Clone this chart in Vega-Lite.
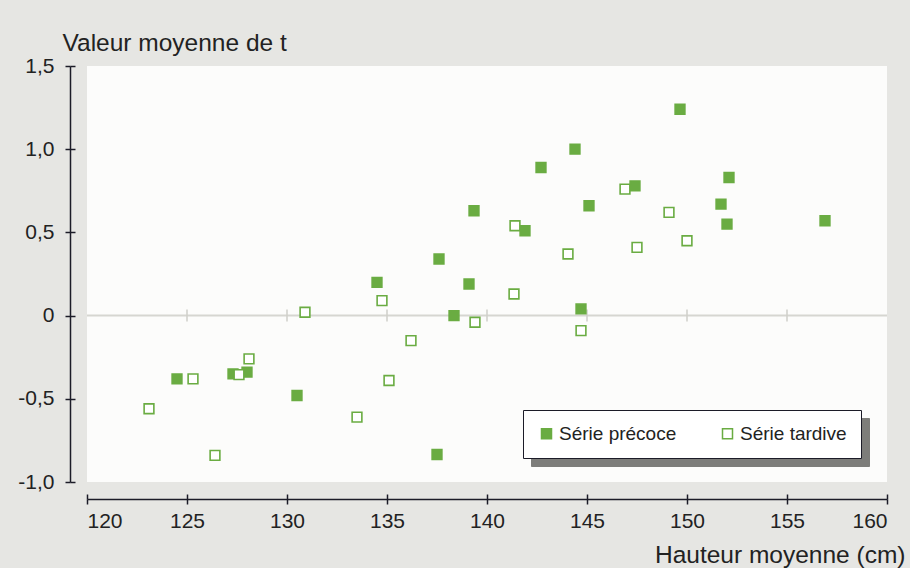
{
  "$schema": "https://vega.github.io/schema/vega-lite/v6.json",
  "width": 800,
  "height": 416,
  "autosize": {"type": "none"},
  "padding": {"left": 87, "top": 66, "right": 23, "bottom": 86},
  "background": "#e6e6e3",
  "view": {"fill": "#fcfcfb", "stroke": null},
  "config": {"font": "Liberation Sans"},
  "resolve": {"axis": {"x": "independent", "y": "independent"}},
  "layer": [
    {
      "data": {"values": [{"v": 0, "ombre": "a"}, {"v": 0, "ombre": "b"}]},
      "mark": {"type": "point", "opacity": 0},
      "encoding": {
        "y": {"field": "v", "type": "quantitative", "scale": {"domain": [-1, 1.5], "nice": false, "zero": false}, "axis": null},
        "color": {"field": "ombre", "type": "nominal",
          "scale": {"domain": ["a", "b"], "range": ["#7d7d7a", "#7d7d7a"]},
          "legend": {"orient": "none", "legendX": 444, "legendY": 352, "direction": "horizontal", "title": null,
            "fillColor": "#7d7d7a", "strokeColor": "#7d7d7a", "padding": 14,
            "symbolType": "square", "symbolSize": 100, "symbolOpacity": 0,
            "labelExpr": "datum.label == 'a' ? 'Série précoce' : 'Série tardive'",
            "labelFont": "Liberation Sans", "labelFontSize": 19, "labelColor": "#7d7d7a", "labelOffset": 3, "columnPadding": 41}}
      }
    },
    {
      "data": {"values": [{"v": 0}]},
      "mark": {"type": "rule", "color": "#d6d6d1", "strokeWidth": 2},
      "encoding": {
        "y": {"field": "v", "type": "quantitative", "scale": {"domain": [-1, 1.5], "nice": false, "zero": false}, "axis": null}
      }
    },
    {
      "data": {"values": [{"h": 125, "v": 0}, {"h": 130, "v": 0}, {"h": 135, "v": 0}, {"h": 140, "v": 0}, {"h": 145, "v": 0}, {"h": 150, "v": 0}, {"h": 155, "v": 0}]},
      "mark": {"type": "tick", "orient": "vertical", "size": 12, "thickness": 1.5, "color": "#cfcfca", "opacity": 1},
      "encoding": {
        "x": {"field": "h", "type": "quantitative", "scale": {"domain": [120, 160], "nice": false, "zero": false},
          "axis": {"orient": "bottom", "offset": 17, "domain": false, "labels": false, "ticks": true, "tickSize": -5, "tickWidth": 1.5, "tickColor": "#1c1c28", "title": null, "grid": false, "values": [120, 125, 130, 135, 140, 145, 150, 155, 160]}},
        "y": {"field": "v", "type": "quantitative", "scale": {"domain": [-1, 1.5], "nice": false, "zero": false},
          "axis": {"orient": "left", "offset": 17, "domain": false, "labels": false, "ticks": true, "tickSize": -5, "tickWidth": 1.5, "tickColor": "#1c1c28", "title": null, "grid": false, "values": [-1, -0.5, 0, 0.5, 1, 1.5]}}
      }
    },
    {
      "data": {"values": [
        {"serie": "Série précoce", "h": 124.5, "v": -0.38},
        {"serie": "Série précoce", "h": 127.3, "v": -0.35},
        {"serie": "Série précoce", "h": 128.0, "v": -0.34},
        {"serie": "Série précoce", "h": 130.5, "v": -0.48},
        {"serie": "Série précoce", "h": 134.5, "v": 0.20},
        {"serie": "Série précoce", "h": 137.5, "v": -0.835},
        {"serie": "Série précoce", "h": 137.6, "v": 0.34},
        {"serie": "Série précoce", "h": 138.35, "v": 0.0},
        {"serie": "Série précoce", "h": 139.1, "v": 0.19},
        {"serie": "Série précoce", "h": 139.35, "v": 0.63},
        {"serie": "Série précoce", "h": 141.9, "v": 0.51},
        {"serie": "Série précoce", "h": 142.7, "v": 0.89},
        {"serie": "Série précoce", "h": 144.4, "v": 1.0},
        {"serie": "Série précoce", "h": 144.7, "v": 0.04},
        {"serie": "Série précoce", "h": 145.1, "v": 0.66},
        {"serie": "Série précoce", "h": 147.4, "v": 0.78},
        {"serie": "Série précoce", "h": 149.65, "v": 1.24},
        {"serie": "Série précoce", "h": 151.7, "v": 0.67},
        {"serie": "Série précoce", "h": 152.0, "v": 0.55},
        {"serie": "Série précoce", "h": 152.1, "v": 0.83},
        {"serie": "Série précoce", "h": 156.9, "v": 0.57},
        {"serie": "Série tardive", "h": 123.1, "v": -0.56},
        {"serie": "Série tardive", "h": 125.3, "v": -0.38},
        {"serie": "Série tardive", "h": 126.4, "v": -0.84},
        {"serie": "Série tardive", "h": 127.6, "v": -0.355},
        {"serie": "Série tardive", "h": 128.1, "v": -0.26},
        {"serie": "Série tardive", "h": 130.9, "v": 0.02},
        {"serie": "Série tardive", "h": 133.5, "v": -0.61},
        {"serie": "Série tardive", "h": 134.75, "v": 0.09},
        {"serie": "Série tardive", "h": 135.1, "v": -0.39},
        {"serie": "Série tardive", "h": 136.2, "v": -0.15},
        {"serie": "Série tardive", "h": 139.4, "v": -0.04},
        {"serie": "Série tardive", "h": 141.35, "v": 0.13},
        {"serie": "Série tardive", "h": 141.4, "v": 0.54},
        {"serie": "Série tardive", "h": 144.05, "v": 0.37},
        {"serie": "Série tardive", "h": 144.7, "v": -0.09},
        {"serie": "Série tardive", "h": 146.9, "v": 0.76},
        {"serie": "Série tardive", "h": 147.5, "v": 0.41},
        {"serie": "Série tardive", "h": 149.1, "v": 0.62},
        {"serie": "Série tardive", "h": 150.0, "v": 0.45}
      ]},
      "mark": {"type": "point", "shape": "square", "size": 95, "filled": true, "stroke": "#6aac42", "strokeWidth": 1.6, "opacity": 1},
      "encoding": {
        "x": {"field": "h", "type": "quantitative", "scale": {"domain": [120, 160], "nice": false, "zero": false},
          "axis": {"orient": "bottom", "offset": 17, "values": [120, 125, 130, 135, 140, 145, 150, 155, 160], "grid": false,
            "domainColor": "#1c1c28", "domainWidth": 1.5, "tickColor": "#1c1c28", "tickWidth": 1.5, "tickSize": 5,
            "labelFont": "Liberation Sans", "labelFontSize": 21, "labelColor": "#222", "labelPadding": 6,
            "title": "Hauteur moyenne (cm)", "titleFont": "Liberation Sans", "titleFontSize": 24.5, "titleFontWeight": "normal", "titleColor": "#222",
            "titleX": 818, "titleY": 63, "titleAlign": "right", "titleBaseline": "alphabetic"}},
        "y": {"field": "v", "type": "quantitative", "scale": {"domain": [-1, 1.5], "nice": false, "zero": false},
          "axis": {"orient": "left", "offset": 17, "values": [-1, -0.5, 0, 0.5, 1, 1.5], "grid": false,
            "labelExpr": "datum.value == 0 ? '0' : replace(replace(format(datum.value, '.1f'), '.', ','), '\u2212', '-')",
            "domainColor": "#1c1c28", "domainWidth": 1.5, "tickColor": "#1c1c28", "tickWidth": 1.5, "tickSize": 5,
            "labelFont": "Liberation Sans", "labelFontSize": 21, "labelColor": "#222", "labelPadding": 11,
            "title": "Valeur moyenne de t", "titleFont": "Liberation Sans", "titleFontSize": 24.5, "titleFontWeight": "normal", "titleColor": "#222",
            "titleAngle": 0, "titleX": -8, "titleY": -16, "titleAlign": "left", "titleBaseline": "alphabetic"}},
        "fill": {"field": "serie", "type": "nominal",
          "scale": {"domain": ["Série précoce", "Série tardive"], "range": ["#6aac42", "#ffffff"]},
          "legend": {"orient": "none", "legendX": 436, "legendY": 344, "direction": "horizontal", "title": null,
            "fillColor": "#ffffff", "strokeColor": "#1c1c28", "padding": 14,
            "symbolType": "square", "symbolSize": 100, "symbolStrokeColor": "#6aac42", "symbolStrokeWidth": 1.5, "symbolOpacity": 1,
            "labelFont": "Liberation Sans", "labelFontSize": 19, "labelColor": "#222", "labelOffset": 3, "columnPadding": 41}}
      }
    }
  ]
}
